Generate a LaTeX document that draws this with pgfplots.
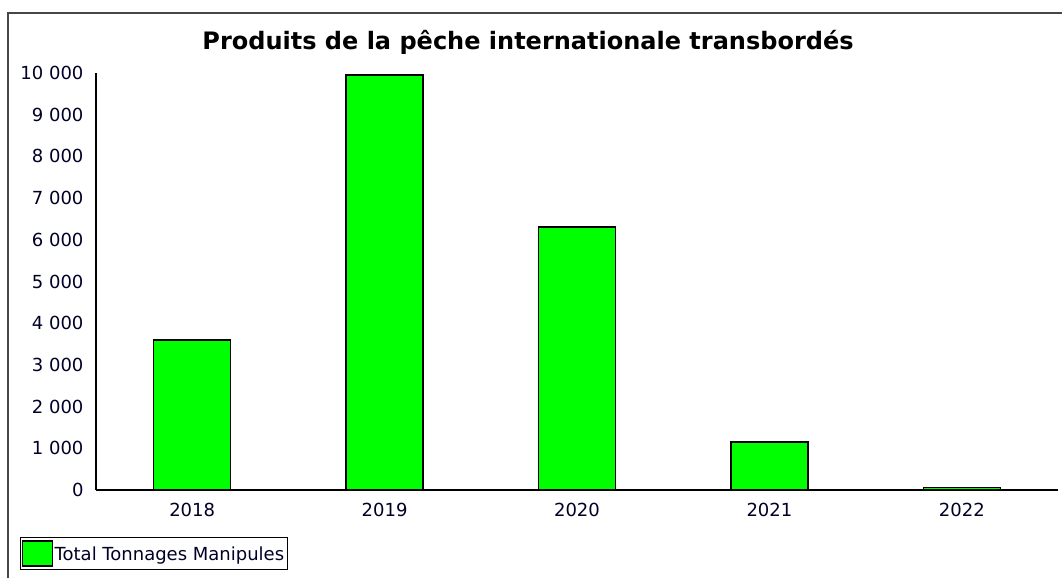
\documentclass[border=0pt]{standalone}
\usepackage{pgfplots}
\pgfplotsset{compat=1.18}
\usepackage{fontspec}
\setmainfont{DejaVu Sans}
\definecolor{barg}{RGB}{0,255,0}
\definecolor{framec}{RGB}{70,70,70}
\begin{document}
\begin{tikzpicture}[x=1pt,y=1pt]
\useasboundingbox (0,0) rectangle (1062,578);
\draw[framec, line width=1.5pt] (8,0) -- (8,565) -- (1062,565);
\node[anchor=base, font=\fontsize{24}{28}\selectfont\bfseries] at (528,528) {Produits de la pêche internationale transbordés};
\begin{axis}[
  at={(96pt,88pt)}, anchor=south west,
  scale only axis, width=962pt, height=417pt,
  xmin=-0.5, xmax=4.5, ymin=0, ymax=10000,
  scaled y ticks=false,
  axis x line=bottom, axis y line=left,
  axis line style={-, black, line width=1.5pt},
  xtick=data, xticklabels={2018,2019,2020,2021,2022},
  ytick={0,1000,...,10000},
  yticklabels={0,1 000,2 000,3 000,4 000,5 000,6 000,7 000,8 000,9 000,10 000},
  major tick length=0pt,
  tick label style={font=\fontsize{18}{20}\selectfont, text=black!85!blue},
  yticklabel style={xshift=-9pt},
  xticklabel style={yshift=-10pt},
  ybar, bar width=77pt,
  legend style={at={(axis description cs:-0.079,-0.1127)}, anchor=north west,
    draw=black, line width=1pt, inner xsep=1pt, inner ysep=3pt,
    font=\fontsize{18}{20}\selectfont, text=black!85!blue},
  legend image code/.code={\draw[fill=barg, draw=black, line width=1.2pt] (0pt,-12pt) rectangle (30pt,13pt);},
]
\addplot[fill=barg, draw=black, line width=1.4pt] coordinates {(0,3600) (1,9950) (2,6310) (3,1150) (4,60)};
\addlegendentry{Total Tonnages Manipules}
\end{axis}
\end{tikzpicture}
\end{document}
